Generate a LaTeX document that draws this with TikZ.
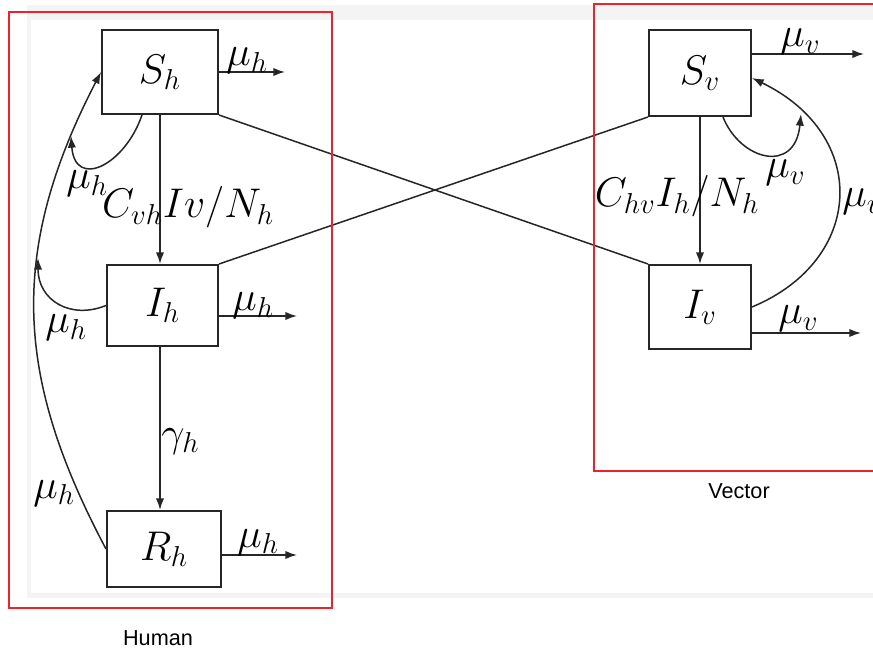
\documentclass[tikz,border=0pt]{standalone}
\usepackage{fontspec}
\usetikzlibrary{arrows.meta}
\newfontfamily\labelfont{Liberation Sans}
\DeclareMathSizes{24.88}{24.88}{17.28}{12}
\definecolor{framered}{RGB}{235,35,45}
\definecolor{bggray}{RGB}{244,244,244}
\begin{document}
\begin{tikzpicture}[x=0.6pt,y=-0.6pt,
  every node/.style={font=\fontsize{24.88}{28}\selectfont},
  boxnode/.style={draw=black!85, line width=1.2pt, inner sep=0pt},
  arr/.style={draw=black!85, line width=0.9pt, -{Latex[length=7pt,width=5pt]}},
  plainline/.style={draw=black!85, line width=0.9pt},
  lab/.style={anchor=base west, inner sep=0pt},
  groupbox/.style={draw=framered, line width=0.7pt},
  grouplabel/.style={font=\labelfont\fontsize{13}{15}\selectfont}]
\useasboundingbox (0,0) rectangle (873,652);
% background of the pasted figure
\fill[bggray] (27,5) rectangle (873,598);
\fill[white] (31,20) rectangle (873,593);
% compartments
\node[boxnode, minimum width=69.6pt, minimum height=50.4pt] (Sh) at (160,72) {$S_h$};
\node[boxnode, minimum width=66.6pt, minimum height=48.6pt] (Ih) at (162.5,305.5) {$I_h$};
\node[boxnode, minimum width=68.4pt, minimum height=45.6pt] (Rh) at (164,549) {$R_h$};
\node[boxnode, minimum width=61.2pt, minimum height=51.6pt] (Sv) at (700,73) {$S_v$};
\node[boxnode, minimum width=61.2pt, minimum height=50.4pt] (Iv) at (700,307) {$I_v$};
% free ends
\coordinate (shout) at (285,72);
\coordinate (ihout) at (297,316);
\coordinate (rhout) at (297,555);
\coordinate (svout) at (864,54);
\coordinate (ivout) at (861,333);
\coordinate (jh) at (38,258);
\coordinate (js) at (71,136);
\coordinate (jv) at (801,114);
% transitions
\draw[arr] (Sh.south) -- (Sh.south |- Ih.north);
\draw[arr] (Sh.south |- Ih.south) -- (Sh.south |- Rh.north);
\draw[arr] (Sv.south) -- (Sv.south |- Iv.north);
% outflows
\draw[arr] (Sh.east) -- (shout);
\draw[arr] (Ih.east |- ihout) -- (ihout);
\draw[arr] (Rh.east |- rhout) -- (rhout);
\draw[arr] (Sv.east |- svout) -- (svout);
\draw[arr] (Iv.east |- ivout) -- (ivout);
% cross lines
\draw[plainline] (Sh.south east) -- (Iv.north west);
\draw[plainline] (Ih.north east) -- (Sv.south west);
% curved returns
\draw[arr] (Rh.west) .. controls (17,381) and (6,255) .. (Sh.west);
\draw[arr] (Ih.west) .. controls (70,320) and (38,300) .. (jh);
\draw[arr] ([xshift=-10.8pt]Sh.south) .. controls (125,165) and (75,190) .. (js);
\draw[arr] ([xshift=13.8pt]Sv.south) .. controls (740,160) and (795,175) .. (jv);
\draw[arr] (Iv.east) .. controls (865,260) and (870,135) .. ([yshift=-3pt]Sv.east);
% labels
\node[lab] (l1) at (226,66) {$\mu_h$};
\node[lab] (l2) at (232,311) {$\mu_h$};
\node[lab] (l3) at (237,547) {$\mu_h$};
\node[lab] (l4) at (780,47) {$\mu_v$};
\node[lab] (l5) at (778,324) {$\mu_v$};
\node[lab] (l6) at (765,178) {$\mu_v$};
\node[lab] (l7) at (842,207) {$\mu_v$};
\node[lab] (l8) at (66,189) {$\mu_h$};
\node[lab] (l9) at (45,333) {$\mu_h$};
\node[lab] (l10) at (33,498) {$\mu_h$};
\node[lab] (l11) at (161,446) {$\gamma_h$};
\node[anchor=base, inner sep=0pt] (l12) at (188,218) {$C_{vh}Iv/N_h$};
\node[anchor=base, inner sep=0pt] (l13) at (677,207) {$C_{hv}I_h/N_h$};
% group frames
\draw[groupbox] (9,12) rectangle (332,608);
\draw[groupbox] (880,4) -- (594,4) -- (594,471) -- (880,471);
\node[grouplabel] (human) at (158,638) {Human};
\node[grouplabel] (vector) at (739,491) {Vector};
\end{tikzpicture}
\end{document}
